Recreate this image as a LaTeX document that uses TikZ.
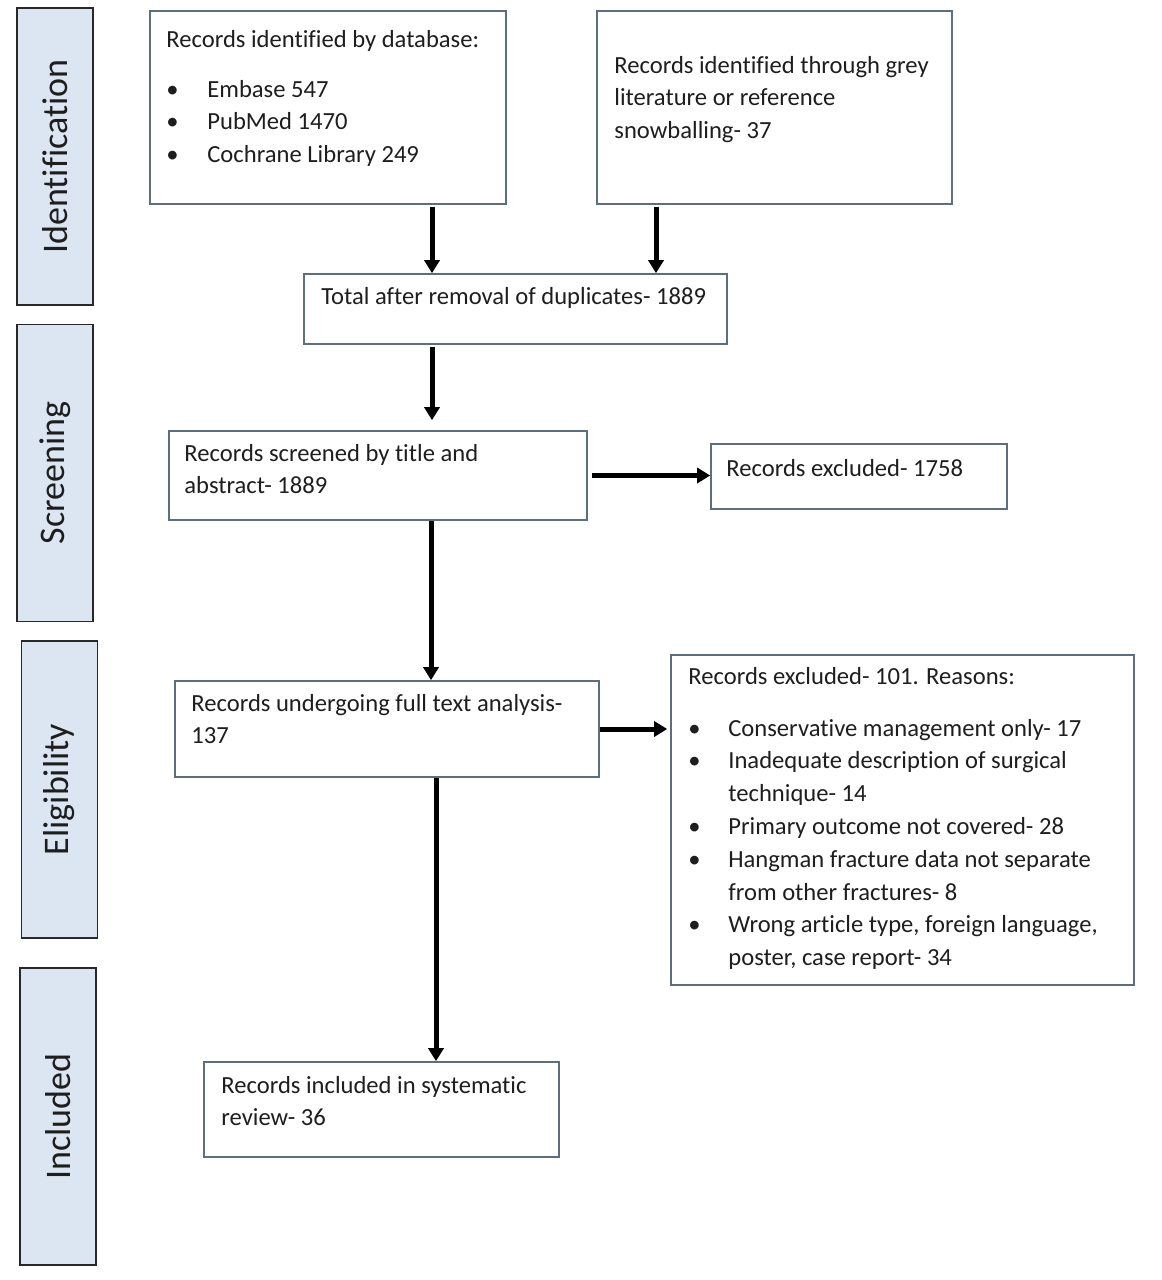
\documentclass[tikz,border=0pt]{standalone}
\usepackage{fontspec}
\setmainfont{Carlito}[Ligatures=NoCommon]
\usetikzlibrary{arrows.meta}
\definecolor{boxline}{RGB}{95,110,125}
\definecolor{bandfill}{RGB}{220,230,242}
\definecolor{bandline}{RGB}{40,40,40}
\definecolor{textc}{RGB}{30,30,30}
\begin{document}
\begin{tikzpicture}[x=0.5pt,y=-0.5pt,
  box/.style={draw=boxline, line width=0.8pt, fill=white, inner sep=0pt},
  band/.style={draw=bandline, line width=0.9pt, fill=bandfill, inner sep=0pt, minimum width=38pt, minimum height=148.5pt},
  bandtxt/.style={rotate=90, text=textc, font=\fontsize{18pt}{20pt}\selectfont, inner sep=0pt},
  txt/.style={text=textc, inner sep=0pt, anchor=base west, font=\fontsize{12.3pt}{16.4pt}\selectfont},
  arr/.style={-{Triangle[length=6.5pt,width=7.5pt]}, line width=2.5pt, black}
]
\useasboundingbox[fill=white] (0,0) rectangle (1162,1280);

% side bands
\node[band] (bid) at (55,156.5) {};
\node[bandtxt] (lid) at (bid.center) {Identification};
\node[band] (bsc) at (55,473) {};
\node[bandtxt] (lsc) at (bsc.center) {Screening};
\node[band] (bel) at (59.5,789.5) {};
\node[bandtxt] (lel) at (bel.center) {Eligibility};
\node[band] (bin) at (58,1116.5) {};
\node[bandtxt] (lin) at (bin.center) {Included};

% boxes
\node[box, minimum width=178pt, minimum height=96.5pt] (db) at (328,107.5) {};
\node[box, minimum width=177.5pt, minimum height=96.5pt] (grey) at (774.5,107.5) {};
\node[box, minimum width=211.5pt, minimum height=35pt] (dup) at (515.5,309) {};
\node[box, minimum width=209pt, minimum height=44.5pt] (scr) at (378,475.5) {};
\node[box, minimum width=148pt, minimum height=32.5pt] (ex1) at (859,476.5) {};
\node[box, minimum width=212pt, minimum height=48pt] (full) at (387,729) {};
\node[box, minimum width=231.5pt, minimum height=165pt] (ex2) at (902.5,820) {};
\node[box, minimum width=177.5pt, minimum height=47.5pt] (inc) at (381.5,1109.5) {};

% texts
\node[txt] (tdb) at (166,47) {\begin{tabular}[t]{@{}p{20.5pt}@{}l@{}}\multicolumn{2}{@{}l@{}}{Records identified by database:}\\[8.6pt]
\textbullet & Embase 547\\
\textbullet & PubMed 1470\\
\textbullet & Cochrane Library 249\end{tabular}};
\node[txt] (tgrey) at (614,73) {\begin{tabular}[t]{@{}l@{}}Records identified through grey\\ literature or reference\\ snowballing- 37\end{tabular}};
\node[txt] (tdup) at (321,304) {Total after removal of duplicates- 1889};
\node[txt] (tscr) at (184,461) {\begin{tabular}[t]{@{}l@{}}Records screened by title and\\ abstract- 1889\end{tabular}};
\node[txt] (tex1) at (726,476) {Records excluded- 1758};
\node[txt] (tfull) at (191,711) {\begin{tabular}[t]{@{}l@{}}Records undergoing full text analysis-\\ 137\end{tabular}};
\node[txt] (tex2) at (688,684) {\begin{tabular}[t]{@{}p{20pt}@{}l@{}}\multicolumn{2}{@{}l@{}}{Records excluded- 101. Reasons:}\\[9.6pt]
\textbullet & Conservative management only- 17\\
\textbullet & Inadequate description of surgical\\
 & technique- 14\\
\textbullet & Primary outcome not covered- 28\\
\textbullet & Hangman fracture data not separate\\
 & from other fractures- 8\\
\textbullet & Wrong article type, foreign language,\\
 & poster, case report- 34\end{tabular}};
\node[txt] (tinc) at (221,1093) {\begin{tabular}[t]{@{}l@{}}Records included in systematic\\ review- 36\end{tabular}};

% connector guides
\coordinate (xa) at (432,0);
\coordinate (xb) at (656,0);
\coordinate (xc) at (431,0);
\coordinate (xd) at (436,0);

% arrows
\draw[arr] ([yshift=-1pt]xa |- db.south) -- (xa |- dup.north);
\draw[arr] ([yshift=-1pt]xb |- grey.south) -- (xb |- dup.north);
\draw[arr] ([yshift=-1pt]xa |- dup.south) -- ([yshift=5pt]xa |- scr.north);
\draw[arr] ([xshift=2pt]scr.east) -- (scr.east -| ex1.west);
\draw[arr] (xc |- scr.south) -- (xc |- full.north);
\draw[arr] (full.east) -- ([xshift=-1.5pt]full.east -| ex2.west);
\draw[arr] (xd |- full.south) -- (xd |- inc.north);
\end{tikzpicture}
\end{document}
